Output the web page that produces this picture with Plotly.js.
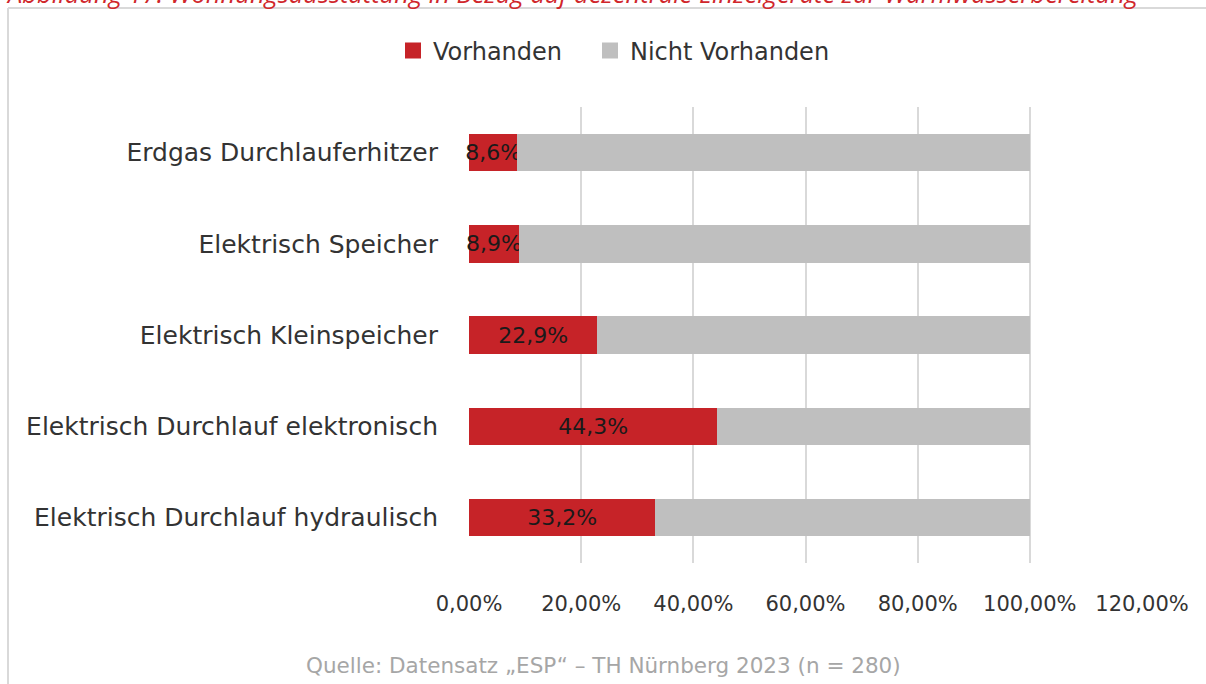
<!DOCTYPE html>
<html>
<head>
<meta charset="utf-8">
<script src="https://cdn.plot.ly/plotly-3.0.1.min.js"></script>
<style>
html,body{margin:0;padding:0;background:#fff;}
#chart{width:1206px;height:684px;}
</style>
</head>
<body>
<div id="chart"></div>
<script>
// Data
var categories = [
  "Erdgas Durchlauferhitzer",
  "Elektrisch Speicher",
  "Elektrisch Kleinspeicher",
  "Elektrisch Durchlauf elektronisch",
  "Elektrisch Durchlauf hydraulisch"
];
var vorhanden = [8.6, 8.9, 22.9, 44.3, 33.2];
var nichtVorhanden = [91.4, 91.1, 77.1, 55.7, 66.8];
var seriesNames = ["Vorhanden", "Nicht Vorhanden"];
var tickValues = [0, 20, 40, 60, 80, 100, 120];
var tickLabels = ["0,00%", "20,00%", "40,00%", "60,00%", "80,00%", "100,00%", "120,00%"];
var titleText = "Abbildung 17: Wohnungsausstattung in Bezug auf dezentrale Einzelgeräte zur Warmwasserbereitung";
var sourceText = "Quelle: Datensatz „ESP“ – TH Nürnberg 2023 (n = 280)";

var RED = "#C62328", GREY = "#BFBFBF";
var FONT = "'DejaVu Sans', 'Noto Sans', sans-serif";
var TXT = "#333333";

function fmt(v){ return v.toFixed(1).replace(".", ",") + "%"; }

// geometry helpers (pixel -> paper)
var L = 469, R = 64, T = 107, B = 121, W = 1206, H = 684;
var pw = W - L - R, ph = H - T - B;
function px(x){ return (x - L) / pw; }
function py(y){ return (H - B - y) / ph; }

var traces = [
  {
    type: "bar", orientation: "h", name: seriesNames[0],
    y: categories, x: vorhanden,
    marker: {color: RED},
    text: vorhanden.map(fmt), textposition: "inside", insidetextanchor: "middle",
    constraintext: "none", cliponaxis: false,
    textfont: {family: FONT, size: 22, color: "#1a1a1a"},
    hoverinfo: "skip", showlegend: false
  },
  {
    type: "bar", orientation: "h", name: seriesNames[1],
    y: categories, x: nichtVorhanden,
    marker: {color: GREY},
    hoverinfo: "skip", showlegend: false
  },
  {
    type: "scatter", mode: "markers", name: seriesNames[0],
    x: [null], y: [null], legendwidth: 152,
    marker: {symbol: "square", size: 16, color: RED}, showlegend: true
  },
  {
    type: "scatter", mode: "markers", name: seriesNames[1],
    x: [null], y: [null], legendwidth: 215,
    marker: {symbol: "square", size: 16, color: GREY}, showlegend: true
  }
];

var layout = {
  width: W, height: H,
  margin: {l: L, r: R, t: T, b: B, pad: 0},
  paper_bgcolor: "#fff", plot_bgcolor: "#fff",
  barmode: "stack", bargap: 0.59,
  font: {family: FONT, color: TXT},
  showlegend: true,
  legend: {
    orientation: "h", x: px(393), xanchor: "left", y: py(51), yanchor: "middle",
    font: {family: FONT, size: 24, color: TXT},
    itemwidth: 30, traceorder: "normal", entrywidthmode: "pixels"
  },
  xaxis: {
    range: [0, 120], tickvals: tickValues, ticktext: tickLabels,
    showgrid: true, gridcolor: "#D9D9D9", gridwidth: 2,
    zeroline: false, showline: false, ticks: "",
    ticklabelstandoff: 26,
    tickfont: {family: FONT, size: 21, color: TXT},
    fixedrange: true
  },
  yaxis: {
    type: "category", categoryorder: "array", categoryarray: categories,
    autorange: "reversed",
    showgrid: false, zeroline: false, showline: false, ticks: "",
    ticklabelstandoff: 30,
    tickfont: {family: FONT, size: 25, color: TXT},
    fixedrange: true
  },
  shapes: [
    {type: "line", xref: "paper", yref: "paper", x0: px(8), x1: px(8), y0: py(8), y1: py(720),
     line: {color: "#D9D9D9", width: 2}},
    {type: "line", xref: "paper", yref: "paper", x0: px(8), x1: px(1230), y0: py(8), y1: py(8),
     line: {color: "#D9D9D9", width: 2}}
  ],
  annotations: [
    {xref: "paper", yref: "paper", x: px(4), y: py(-7), xanchor: "left", yanchor: "middle",
     text: titleText, showarrow: false,
     font: {family: "'Open Sans', 'Noto Sans', sans-serif", size: 25.5, color: "#D0262B", style: "italic"}},
    {xref: "paper", yref: "paper", x: px(603), y: py(665), xanchor: "center", yanchor: "middle",
     text: sourceText, showarrow: false,
     font: {family: FONT, size: 21.5, color: "#A6A6A6"}}
  ]
};

Plotly.newPlot("chart", traces, layout, {displayModeBar: false, staticPlot: true});
</script>
</body>
</html>
